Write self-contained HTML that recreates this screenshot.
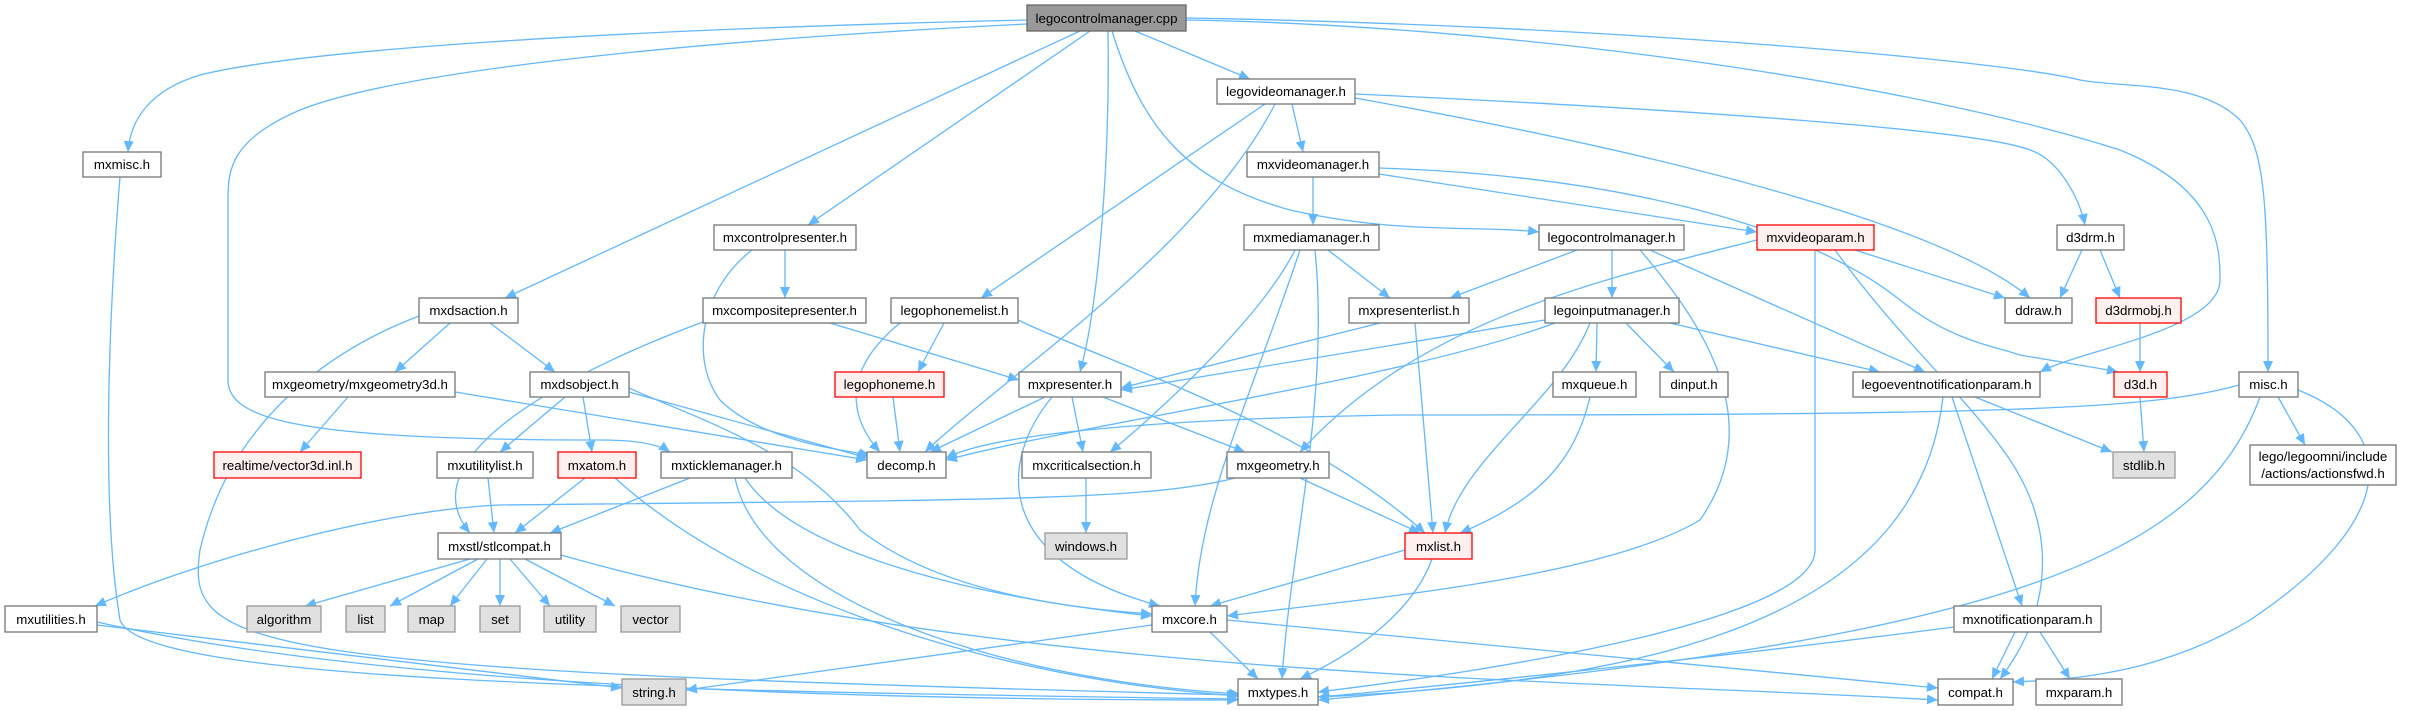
<!DOCTYPE html>
<html><head><meta charset="utf-8"><style>
html,body{margin:0;padding:0;background:#fff;}
svg{display:block;}
text{font-family:"Liberation Sans",sans-serif;font-size:13.3px;fill:#000;text-anchor:middle;}
.e{fill:none;stroke:#63b8ff;stroke-width:1.3;marker-end:url(#a);}
.n rect{fill:#fff;stroke:#777;stroke-width:1.3;}
.r rect{fill:#fff0f0;stroke:#f00;stroke-width:1.3;}
.g rect{fill:#e0e0e0;stroke:#999;stroke-width:1.3;}
.root rect{fill:#999;stroke:#666;stroke-width:1.3;}
</style></head><body>
<svg width="2422" height="711" viewBox="0 0 2422 711" xmlns="http://www.w3.org/2000/svg">
<defs><marker id="a" markerUnits="userSpaceOnUse" markerWidth="12" markerHeight="10" refX="11" refY="5" orient="auto"><path d="M0,0 L11,5 L0,10 z" fill="#63b8ff"/></marker></defs>
<g>
<path class="e" d="M1027,20 C600,30 300,50 200,75 C150,90 130,120 128,152"/>
<path class="e" d="M1027,24 C700,40 400,70 300,110 C230,140 228,170 228,200 L228,380 C228,420 300,440 600,440 C640,440 660,445 670,452"/>
<path class="e" d="M1080,31 L505,298"/>
<path class="e" d="M1090,31 L808,225"/>
<path class="e" d="M1108,31 C1110,150 1100,300 1080,372"/>
<path class="e" d="M1135,31 L1250,79"/>
<path class="e" d="M1112,31 C1140,120 1180,180 1290,210 C1400,235 1480,225 1539,232"/>
<path class="e" d="M1186,20 C1500,25 1900,80 2120,150 C2220,190 2220,250 2220,280 C2220,330 2080,350 2040,372"/>
<path class="e" d="M1186,18 C1600,25 2000,60 2080,80 C2120,88 2200,80 2240,120 C2265,150 2268,200 2268,372"/>
<path class="e" d="M1292,104 L1303,152"/>
<path class="e" d="M1265,104 L981,298"/>
<path class="e" d="M1275,104 C1200,250 1000,380 925,452"/>
<path class="e" d="M1355,98 C1700,160 1950,230 2030,298"/>
<path class="e" d="M1355,94 C1700,110 1980,130 2030,150 C2060,160 2080,200 2085,225"/>
<path class="e" d="M1313,177 L1313,225"/>
<path class="e" d="M1379,174 L1757,232"/>
<path class="e" d="M1379,168 C1600,175 1800,220 1900,300 C1950,340 1990,345 2020,355 C2060,362 2100,368 2118,372"/>
<path class="e" d="M785,250 L785,298"/>
<path class="e" d="M752,250 C700,290 690,360 720,400 C760,440 840,450 870,455"/>
<path class="e" d="M1328,250 L1390,298"/>
<path class="e" d="M1295,250 C1260,320 1150,420 1110,452"/>
<path class="e" d="M1300,250 C1250,400 1200,500 1195,606"/>
<path class="e" d="M1315,250 C1330,400 1290,550 1282,679"/>
<path class="e" d="M1577,250 L1450,298"/>
<path class="e" d="M1612,250 L1612,298"/>
<path class="e" d="M1650,250 L1925,372"/>
<path class="e" d="M1640,250 C1700,320 1770,420 1700,520 C1600,580 1350,600 1227,616"/>
<path class="e" d="M1757,240 C1600,280 1420,320 1300,452"/>
<path class="e" d="M1855,250 L2005,298"/>
<path class="e" d="M1815,250 L1815,550 C1815,620 1500,670 1318,692"/>
<path class="e" d="M1835,250 C1900,340 1970,400 2010,460 C2050,520 2060,600 2000,679"/>
<path class="e" d="M2082,250 L2060,298"/>
<path class="e" d="M2100,250 L2120,298"/>
<path class="e" d="M2140,323 L2140,372"/>
<path class="e" d="M2140,397 L2144,452"/>
<path class="e" d="M450,323 L395,372"/>
<path class="e" d="M490,323 L555,372"/>
<path class="e" d="M419,316 C330,350 230,420 200,550 C185,650 240,670 1238,695"/>
<path class="e" d="M830,323 L1019,380"/>
<path class="e" d="M703,322 C600,360 400,450 470,533"/>
<path class="e" d="M944,323 L918,372"/>
<path class="e" d="M900,323 C830,380 860,430 880,452"/>
<path class="e" d="M1018,320 C1100,360 1300,420 1425,533"/>
<path class="e" d="M1380,323 L1121,388"/>
<path class="e" d="M1415,323 L1433,533"/>
<path class="e" d="M1545,320 L1121,390"/>
<path class="e" d="M1555,323 C1400,380 1100,420 946,460"/>
<path class="e" d="M1597,323 L1596,372"/>
<path class="e" d="M1626,323 L1674,372"/>
<path class="e" d="M1670,323 L1880,372"/>
<path class="e" d="M1590,323 C1560,400 1460,460 1445,533"/>
<path class="e" d="M348,397 L300,452"/>
<path class="e" d="M455,392 L867,460"/>
<path class="e" d="M565,397 L500,452"/>
<path class="e" d="M583,397 L592,452"/>
<path class="e" d="M629,392 L868,458"/>
<path class="e" d="M629,388 C700,420 800,450 860,530 C950,600 1100,610 1152,614"/>
<path class="e" d="M893,397 L900,452"/>
<path class="e" d="M1045,397 L930,452"/>
<path class="e" d="M1072,397 L1083,452"/>
<path class="e" d="M1103,397 L1245,452"/>
<path class="e" d="M1052,397 C1000,460 990,560 1160,606"/>
<path class="e" d="M1590,397 C1575,460 1540,500 1460,533"/>
<path class="e" d="M1975,397 L2112,452"/>
<path class="e" d="M1952,397 L2022,606"/>
<path class="e" d="M1943,397 C1920,600 1700,680 1318,697"/>
<path class="e" d="M2239,385 C2150,410 2000,415 1400,415 C1200,418 1000,430 946,458"/>
<path class="e" d="M2278,397 L2305,445"/>
<path class="e" d="M2260,397 C2200,560 2000,640 1318,700"/>
<path class="e" d="M2298,390 C2400,430 2400,520 2250,620 C2150,680 2050,680 2013,682"/>
<path class="e" d="M488,478 L494,533"/>
<path class="e" d="M585,478 L515,533"/>
<path class="e" d="M615,478 C750,600 1000,680 1240,696"/>
<path class="e" d="M690,478 L550,533"/>
<path class="e" d="M745,478 C800,560 1000,600 1152,616"/>
<path class="e" d="M735,478 C760,600 1000,680 1240,694"/>
<path class="e" d="M1086,478 L1086,533"/>
<path class="e" d="M1235,478 C1150,500 1000,500 500,505 C380,510 200,560 95,606"/>
<path class="e" d="M1300,478 L1420,533"/>
<path class="e" d="M470,559 L305,606"/>
<path class="e" d="M478,559 L390,606"/>
<path class="e" d="M487,559 L450,606"/>
<path class="e" d="M500,559 L500,606"/>
<path class="e" d="M510,559 L550,606"/>
<path class="e" d="M525,559 L615,606"/>
<path class="e" d="M561,555 C1000,680 1600,680 1938,700"/>
<path class="e" d="M1405,550 L1210,606"/>
<path class="e" d="M1432,559 C1410,620 1340,660 1300,679"/>
<path class="e" d="M97,625 L622,688"/>
<path class="e" d="M97,622 C400,690 900,700 1238,700"/>
<path class="e" d="M1152,625 L686,690"/>
<path class="e" d="M1210,632 L1258,679"/>
<path class="e" d="M1227,620 L1938,688"/>
<path class="e" d="M1954,627 C1700,660 1400,690 1318,697"/>
<path class="e" d="M2015,632 L1992,679"/>
<path class="e" d="M2040,632 L2070,679"/>
<path class="e" d="M120,177 C110,300 100,500 120,620 C140,680 600,690 1238,699"/>
</g>
<g class="root"><rect x="1027" y="5" width="159" height="26"/><text x="1106.5" y="23">legocontrolmanager.cpp</text></g>
<g class="n"><rect x="1217" y="79" width="138" height="25"/><text x="1286" y="96">legovideomanager.h</text></g>
<g class="n"><rect x="83" y="152" width="78" height="25"/><text x="122" y="169">mxmisc.h</text></g>
<g class="n"><rect x="1247" y="152" width="132" height="25"/><text x="1313" y="169">mxvideomanager.h</text></g>
<g class="n"><rect x="714" y="225" width="142" height="25"/><text x="785" y="242">mxcontrolpresenter.h</text></g>
<g class="n"><rect x="1244" y="225" width="135" height="25"/><text x="1311.5" y="242">mxmediamanager.h</text></g>
<g class="n"><rect x="1539" y="225" width="145" height="25"/><text x="1611.5" y="242">legocontrolmanager.h</text></g>
<g class="r"><rect x="1757" y="225" width="117" height="25"/><text x="1815.5" y="242">mxvideoparam.h</text></g>
<g class="n"><rect x="2057" y="225" width="67" height="25"/><text x="2090.5" y="242">d3drm.h</text></g>
<g class="n"><rect x="419" y="298" width="99" height="25"/><text x="468.5" y="315">mxdsaction.h</text></g>
<g class="n"><rect x="703" y="298" width="163" height="25"/><text x="784.5" y="315">mxcompositepresenter.h</text></g>
<g class="n"><rect x="891" y="298" width="127" height="25"/><text x="954.5" y="315">legophonemelist.h</text></g>
<g class="n"><rect x="1349" y="298" width="120" height="25"/><text x="1409" y="315">mxpresenterlist.h</text></g>
<g class="n"><rect x="1545" y="298" width="134" height="25"/><text x="1612" y="315">legoinputmanager.h</text></g>
<g class="n"><rect x="2005" y="298" width="67" height="25"/><text x="2038.5" y="315">ddraw.h</text></g>
<g class="r"><rect x="2096" y="298" width="85" height="25"/><text x="2138.5" y="315">d3drmobj.h</text></g>
<g class="n"><rect x="265" y="372" width="190" height="25"/><text x="360" y="389">mxgeometry/mxgeometry3d.h</text></g>
<g class="n"><rect x="530" y="372" width="99" height="25"/><text x="579.5" y="389">mxdsobject.h</text></g>
<g class="r"><rect x="835" y="372" width="109" height="25"/><text x="889.5" y="389">legophoneme.h</text></g>
<g class="n"><rect x="1019" y="372" width="102" height="25"/><text x="1070" y="389">mxpresenter.h</text></g>
<g class="n"><rect x="1553" y="372" width="83" height="25"/><text x="1594.5" y="389">mxqueue.h</text></g>
<g class="n"><rect x="1660" y="372" width="68" height="25"/><text x="1694" y="389">dinput.h</text></g>
<g class="n"><rect x="1853" y="372" width="187" height="25"/><text x="1946.5" y="389">legoeventnotificationparam.h</text></g>
<g class="r"><rect x="2114" y="372" width="53" height="25"/><text x="2140.5" y="389">d3d.h</text></g>
<g class="n"><rect x="2239" y="372" width="59" height="25"/><text x="2268.5" y="389">misc.h</text></g>
<g class="r"><rect x="214" y="452" width="147" height="26"/><text x="287.5" y="470">realtime/vector3d.inl.h</text></g>
<g class="n"><rect x="437" y="452" width="96" height="26"/><text x="485" y="470">mxutilitylist.h</text></g>
<g class="r"><rect x="558" y="452" width="78" height="26"/><text x="597" y="470">mxatom.h</text></g>
<g class="n"><rect x="661" y="452" width="131" height="26"/><text x="726.5" y="470">mxticklemanager.h</text></g>
<g class="n"><rect x="867" y="452" width="79" height="26"/><text x="906.5" y="470">decomp.h</text></g>
<g class="n"><rect x="1022" y="452" width="129" height="26"/><text x="1086.5" y="470">mxcriticalsection.h</text></g>
<g class="n"><rect x="1227" y="452" width="102" height="26"/><text x="1278" y="470">mxgeometry.h</text></g>
<g class="g"><rect x="2113" y="452" width="62" height="26"/><text x="2144" y="470">stdlib.h</text></g>
<g class="n"><rect x="2250" y="445" width="146" height="40"/><text x="2323" y="461">lego/legoomni/include</text><text x="2323" y="478">/actions/actionsfwd.h</text></g>
<g class="n"><rect x="438" y="533" width="123" height="26"/><text x="499.5" y="551">mxstl/stlcompat.h</text></g>
<g class="g"><rect x="1045" y="533" width="82" height="26"/><text x="1086" y="551">windows.h</text></g>
<g class="r"><rect x="1405" y="533" width="67" height="26"/><text x="1438.5" y="551">mxlist.h</text></g>
<g class="n"><rect x="5" y="606" width="92" height="26"/><text x="51" y="624">mxutilities.h</text></g>
<g class="g"><rect x="247" y="606" width="74" height="26"/><text x="284" y="624">algorithm</text></g>
<g class="g"><rect x="346" y="606" width="39" height="26"/><text x="365.5" y="624">list</text></g>
<g class="g"><rect x="408" y="606" width="47" height="26"/><text x="431.5" y="624">map</text></g>
<g class="g"><rect x="480" y="606" width="40" height="26"/><text x="500" y="624">set</text></g>
<g class="g"><rect x="544" y="606" width="52" height="26"/><text x="570" y="624">utility</text></g>
<g class="g"><rect x="621" y="606" width="59" height="26"/><text x="650.5" y="624">vector</text></g>
<g class="n"><rect x="1152" y="606" width="75" height="26"/><text x="1189.5" y="624">mxcore.h</text></g>
<g class="n"><rect x="1954" y="606" width="147" height="26"/><text x="2027.5" y="624">mxnotificationparam.h</text></g>
<g class="g"><rect x="622" y="679" width="64" height="26"/><text x="654" y="697">string.h</text></g>
<g class="n"><rect x="1238" y="679" width="80" height="26"/><text x="1278" y="697">mxtypes.h</text></g>
<g class="n"><rect x="1938" y="679" width="75" height="26"/><text x="1975.5" y="697">compat.h</text></g>
<g class="n"><rect x="2036" y="679" width="86" height="26"/><text x="2079" y="697">mxparam.h</text></g>
</svg>
</body></html>
